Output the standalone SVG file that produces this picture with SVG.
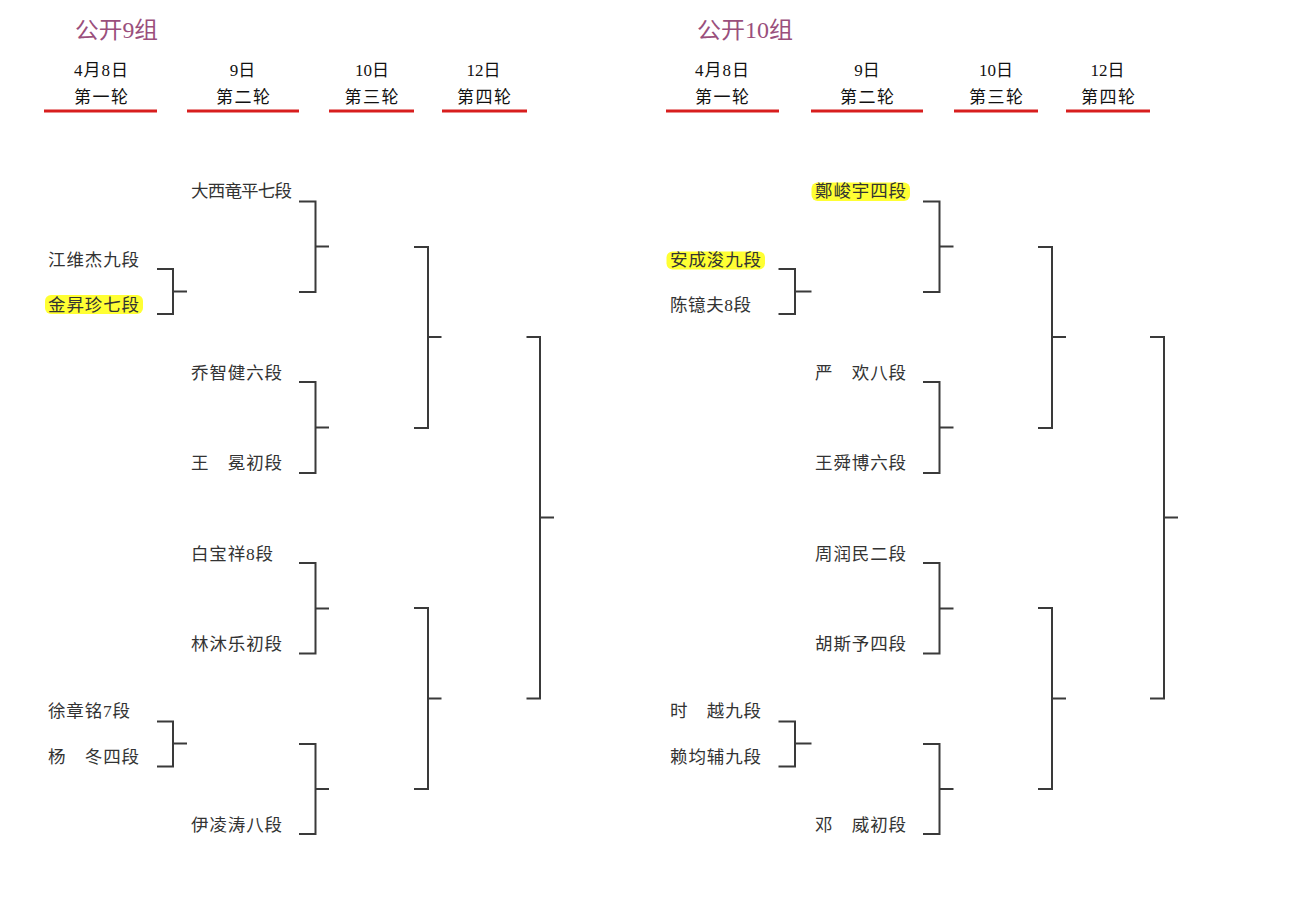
<svg xmlns="http://www.w3.org/2000/svg" width="1300" height="919" viewBox="0 0 1300 919">
<style>
.title{font-family:"Liberation Serif","Noto Sans CJK SC",serif;font-size:22.5px;fill:#9a4f7c}
.hd{font-family:"Liberation Serif","Noto Sans CJK SC",serif;font-size:17px;fill:#111;text-anchor:middle}
.nm{font-family:"Liberation Serif","Noto Sans CJK SC",serif;font-size:17.5px;fill:#333}
.hl{fill:#ffff33}
.ul{stroke:#d81e1e;stroke-width:3;fill:none}
.br{stroke:#3a3a3a;stroke-width:2;fill:none}
</style>
<rect width="1300" height="919" fill="#ffffff"/>

<g id="group9-header">
<text class="title" x="75" y="37.5" textLength="83" lengthAdjust="spacingAndGlyphs">公开9组</text>
<text class="hd" x="101" y="76" textLength="54">4月8日</text>
<text class="hd" x="101" y="102.5" textLength="54">第一轮</text>
<text class="hd" x="242.5" y="76">9日</text>
<text class="hd" x="243" y="102.5" textLength="54">第二轮</text>
<text class="hd" x="372" y="76">10日</text>
<text class="hd" x="371.5" y="102.5" textLength="54">第三轮</text>
<text class="hd" x="483.5" y="76">12日</text>
<text class="hd" x="484" y="102.5" textLength="54">第四轮</text>
<line class="ul" x1="44" y1="111" x2="157" y2="111"/>
<line class="ul" x1="187" y1="111" x2="299" y2="111"/>
<line class="ul" x1="329" y1="111" x2="414" y2="111"/>
<line class="ul" x1="442" y1="111" x2="527" y2="111"/>
</g>

<g id="group10-header">
<text class="title" x="697" y="37.5" textLength="96" lengthAdjust="spacingAndGlyphs">公开10组</text>
<text class="hd" x="722" y="76" textLength="54">4月8日</text>
<text class="hd" x="722" y="102.5" textLength="54">第一轮</text>
<text class="hd" x="867" y="76">9日</text>
<text class="hd" x="867" y="102.5" textLength="54">第二轮</text>
<text class="hd" x="996" y="76">10日</text>
<text class="hd" x="996" y="102.5" textLength="54">第三轮</text>
<text class="hd" x="1107.5" y="76">12日</text>
<text class="hd" x="1108" y="102.5" textLength="54">第四轮</text>
<line class="ul" x1="666" y1="111" x2="779" y2="111"/>
<line class="ul" x1="811" y1="111" x2="923" y2="111"/>
<line class="ul" x1="954" y1="111" x2="1038" y2="111"/>
<line class="ul" x1="1066" y1="111" x2="1150" y2="111"/>
</g>

<g id="p9-jiangweijie"><text class="nm" x="48" y="266" textLength="91">江维杰九段</text></g>
<g id="p9-jinshengzhen"><rect class="hl" x="45" y="295" width="98" height="19" rx="6"/><text class="nm" x="48" y="311" textLength="91">金昇珍七段</text></g>
<g id="p9-xuzhangming"><text class="nm" x="48" y="717" textLength="82">徐章铭7段</text></g>
<g id="p9-yangdong"><text class="nm" x="48" y="763" textLength="91">杨　冬四段</text></g>
<g id="p9-daxi"><text class="nm" x="191" y="197" textLength="101">大西竜平七段</text></g>
<g id="p9-qiaozhijian"><text class="nm" x="191" y="379" textLength="91">乔智健六段</text></g>
<g id="p9-wangmian"><text class="nm" x="191" y="469" textLength="91">王　冕初段</text></g>
<g id="p9-baibaoxiang"><text class="nm" x="191" y="560" textLength="82">白宝祥8段</text></g>
<g id="p9-linmule"><text class="nm" x="191" y="650" textLength="91">林沐乐初段</text></g>
<g id="p9-yilingtao"><text class="nm" x="191" y="831" textLength="91">伊凌涛八段</text></g>

<g id="p10-anchengjun"><rect class="hl" x="666.5" y="251.5" width="98.5" height="18" rx="6"/><text class="nm" x="670" y="266" textLength="91">安成浚九段</text></g>
<g id="p10-chenyifu"><text class="nm" x="670" y="311" textLength="81">陈镱夫8段</text></g>
<g id="p10-shiyue"><text class="nm" x="670" y="717" textLength="91">时　越九段</text></g>
<g id="p10-laijunfu"><text class="nm" x="670" y="763" textLength="91">赖均辅九段</text></g>
<g id="p10-zhengjunyu"><rect class="hl" x="811.5" y="182.5" width="98.5" height="18.5" rx="6"/><text class="nm" x="815" y="197" textLength="91">鄭峻宇四段</text></g>
<g id="p10-yanhuan"><text class="nm" x="815" y="379" textLength="91">严　欢八段</text></g>
<g id="p10-wangshunbo"><text class="nm" x="815" y="469" textLength="91">王舜博六段</text></g>
<g id="p10-zhourunmin"><text class="nm" x="815" y="560" textLength="91">周润民二段</text></g>
<g id="p10-husiyu"><text class="nm" x="815" y="650" textLength="91">胡斯予四段</text></g>
<g id="p10-dengwei"><text class="nm" x="815" y="831" textLength="91">邓　威初段</text></g>

<g id="connectors" class="br">
<path d="M157 269H173V314H157M173 291.5H187"/>
<path d="M157 721.5H173V766.5H157M173 743.5H187"/>
<path d="M299 201.5H315.5V292H299M315.5 246.5H329"/>
<path d="M299 382H315.5V473H299M315.5 427.5H329"/>
<path d="M299 563H315.5V653.5H299M315.5 608.5H329"/>
<path d="M299 744H315.5V834H299M315.5 789H329"/>
<path d="M414 247H428V428H414M428 337H441.5"/>
<path d="M414 608H428V789H414M428 698.5H441.5"/>
<path d="M526.5 337H540V698.5H526.5M540 517.5H554"/>

<path d="M778.5 269H795V314H778.5M795 291.5H811.5"/>
<path d="M778.5 721.5H795V766.5H778.5M795 743.5H811.5"/>
<path d="M923 201.5H939.5V292H923M939.5 246.5H953.5"/>
<path d="M923 382H939.5V473H923M939.5 427.5H953.5"/>
<path d="M923 563H939.5V653.5H923M939.5 608.5H953.5"/>
<path d="M923 744H939.5V834H923M939.5 789H953.5"/>
<path d="M1038 247H1052V428H1038M1052 337H1066"/>
<path d="M1038 608H1052V789H1038M1052 698.5H1066"/>
<path d="M1150 337H1164V698.5H1150M1164 517.5H1178"/>
</g>
</svg>
